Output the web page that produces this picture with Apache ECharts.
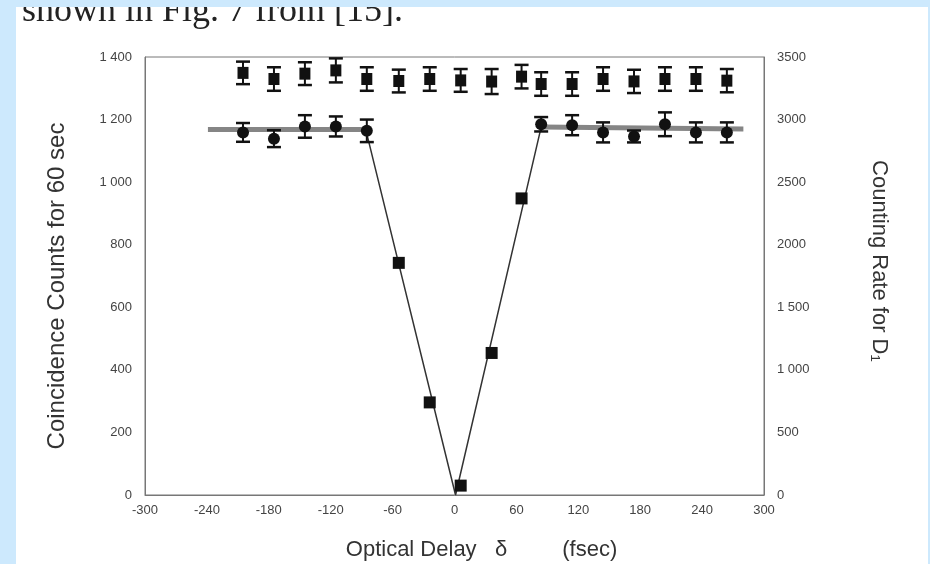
<!DOCTYPE html>
<html>
<head>
<meta charset="utf-8">
<script src="https://cdn.jsdelivr.net/npm/echarts@6/dist/echarts.min.js"></script>
<style>
  html, body { margin: 0; padding: 0; background: #cde9fd; }
  #panel { position: absolute; left: 16px; top: 7px; width: 912px; height: 557px; background: #fff; overflow: hidden; }
  #chart { position: absolute; left: -16px; top: -7px; width: 930px; height: 564px; }
</style>
</head>
<body>
<div id="panel"><div id="chart"></div></div>
<script>
// optical delay (fsec), shared by both series
const delay = [-205, -175, -145, -115, -85, -54, -24, 6, 36, 65, 84, 114, 144, 174, 204, 234, 264]
// counting rate for D1 (right axis) and its error
const rateD1 = [3373, 3324, 3367, 3393, 3324, 3308, 3324, 3313, 3304, 3343, 3284, 3284, 3324, 3305, 3324, 3324, 3311]
const rateErr = [90, 94, 91, 96, 94, 91, 94, 91, 100, 94, 94, 94, 94, 93, 94, 94, 93]
// coincidence counts for 60 sec (left axis) and its error (0 = no bar drawn)
const coinc = [1159, 1139, 1178, 1178, 1164, 742, 296, 30, 454, 948, 1185, 1182, 1159, 1146, 1185, 1159, 1159]
const coincErr = [30, 27, 36, 32, 36, 0, 0, 0, 0, 0, 23, 32, 32, 19, 38, 32, 32]
// fitted curve vertices: plateau, dip, plateau
const fitX = [-239, -86, 1, 84, 280]
const fitY = [1168, 1168, 0, 1176, 1170]
// tick labels as printed
const leftLabels = ['0', '200', '400', '600', '800', '1 000', '1 200', '1 400']
const rightLabels = ['0', '500', '1 000', '1 500', '2000', '2500', '3000', '3500']

let myChart = echarts.init(document.getElementById('chart'))

function errorBars (api) {
  let x = api.value(0)
  let y = api.value(1)
  let e = api.value(2)
  if (!e) return null
  let top = api.coord([x, y + e])
  let bot = api.coord([x, y - e])
  let w = 7
  let cap = { stroke: '#111', lineWidth: 2.5 }
  return {
    type: 'group',
    children: [
      { type: 'line', shape: { x1: top[0], y1: top[1], x2: bot[0], y2: bot[1] }, style: { stroke: '#111', lineWidth: 2 } },
      { type: 'line', shape: { x1: top[0] - w, y1: top[1], x2: top[0] + w, y2: top[1] }, style: cap },
      { type: 'line', shape: { x1: bot[0] - w, y1: bot[1], x2: bot[0] + w, y2: bot[1] }, style: cap }
    ]
  }
}

const font = '"Liberation Sans", Arial, sans-serif'
const pair = (xs, ys) => xs.map((x, i) => [x, ys[i]])

myChart.setOption({
  animation: false,
  textStyle: { fontFamily: font },
  graphic: [{
    type: 'text',
    left: 22,
    top: -6,
    style: { text: 'shown in Fig. 7 from [15].', font: '36px "Liberation Serif", "Times New Roman", serif', fill: '#222' }
  }],
  grid: {
    left: 145, right: 166, top: 57, bottom: 69,
    containLabel: false, outerBoundsMode: 'none',
    show: true, borderColor: '#777', borderWidth: 1
  },
  xAxis: {
    type: 'value', min: -300, max: 300, interval: 60,
    name: 'Optical Delay   δ         (fsec)',
    nameLocation: 'middle', nameGap: 44,
    nameTextStyle: { fontSize: 22, color: '#333', padding: [0, 0, 0, 54] },
    axisLine: { onZero: false, lineStyle: { color: '#777' } },
    axisTick: { show: false },
    splitLine: { show: false },
    axisLabel: { color: '#444', fontSize: 13, margin: 9 }
  },
  yAxis: [{
    type: 'value', min: 0, max: 1400, interval: 200,
    name: 'Coincidence Counts for 60 sec',
    nameLocation: 'middle', nameGap: 76,
    nameTextStyle: { fontSize: 24, color: '#333', padding: [0, 20, 0, 0] },
    axisLine: { show: true, onZero: false, lineStyle: { color: '#777' } },
    axisTick: { show: false },
    splitLine: { show: false },
    axisLabel: { color: '#444', fontSize: 13, margin: 13, formatter: v => leftLabels[v / 200] }
  }, {
    type: 'value', min: 0, max: 3500, interval: 500, position: 'right',
    name: 'Counting Rate for D₁',
    nameLocation: 'middle', nameGap: 104, nameRotate: -90,
    nameTextStyle: { fontSize: 22, color: '#333', padding: [0, 30, 0, 0] },
    axisLine: { show: true, onZero: false, lineStyle: { color: '#777' } },
    axisTick: { show: false },
    splitLine: { show: false },
    axisLabel: { color: '#444', fontSize: 13, margin: 13, formatter: v => rightLabels[v / 500] }
  }],
  series: [{
    name: 'plateauL',
    type: 'line',
    data: pair(fitX.slice(0, 2), fitY.slice(0, 2)),
    symbol: 'none',
    lineStyle: { color: '#858585', width: 5 },
    z: 1
  }, {
    name: 'plateauR',
    type: 'line',
    data: pair(fitX.slice(3), fitY.slice(3)),
    symbol: 'none',
    lineStyle: { color: '#858585', width: 5 },
    z: 1
  }, {
    name: 'dip',
    type: 'line',
    data: pair(fitX.slice(1, 4), fitY.slice(1, 4)),
    symbol: 'none',
    lineStyle: { color: '#333', width: 1.5 },
    z: 2
  }, {
    name: 'rateErr',
    type: 'custom',
    yAxisIndex: 1,
    renderItem: (params, api) => errorBars(api),
    data: delay.map((x, i) => [x, rateD1[i], rateErr[i]]),
    encode: { x: 0, y: 1 },
    z: 3
  }, {
    name: 'coincErr',
    type: 'custom',
    renderItem: (params, api) => errorBars(api),
    data: delay.map((x, i) => [x, coinc[i], coincErr[i]]),
    encode: { x: 0, y: 1 },
    z: 3
  }, {
    name: 'Counting Rate for D1',
    type: 'scatter',
    yAxisIndex: 1,
    data: pair(delay, rateD1),
    symbol: 'rect',
    symbolSize: [11, 12],
    itemStyle: { color: '#111', opacity: 1 },
    z: 4
  }, {
    name: 'Coincidence Counts',
    type: 'scatter',
    data: pair(delay, coinc),
    symbol: (val, params) => coincErr[params.dataIndex] ? 'circle' : 'rect',
    symbolSize: 12,
    itemStyle: { color: '#111', opacity: 1 },
    z: 4
  }]
})
</script>
</body>
</html>
